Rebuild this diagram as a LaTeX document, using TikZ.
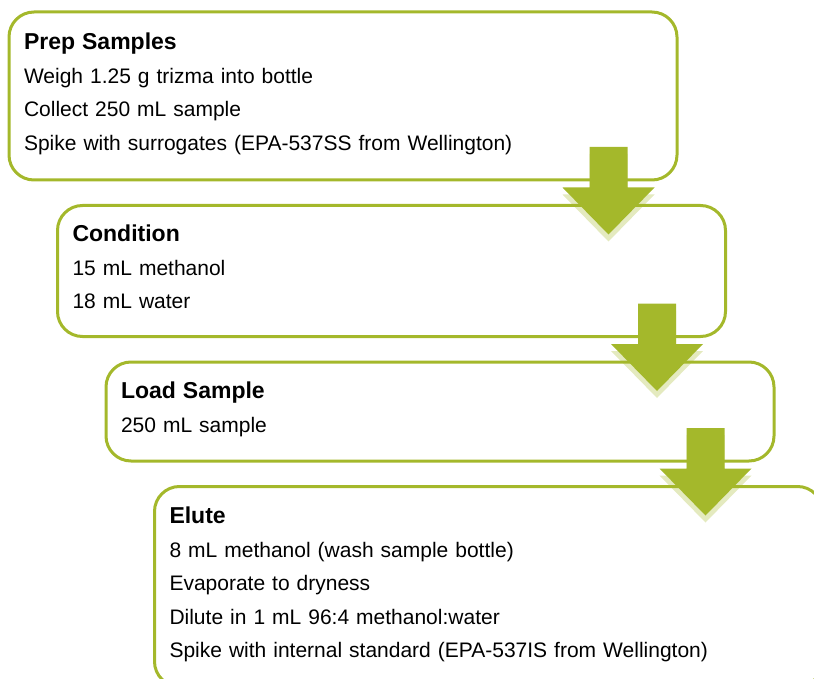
\documentclass[tikz,border=0pt]{standalone}
\usepackage{fontspec}
\setmainfont{Liberation Sans}
\usetikzlibrary{positioning,calc}

\definecolor{flowgreen}{HTML}{A4B82B}

\tikzset{
	stepbox/.style={draw=flowgreen, line width=3pt, rounded corners=25pt,
		anchor=north west, align=left, text width=638pt, inner xsep=15pt,
		inner ysep=0pt, outer sep=0pt, minimum width=668pt,
		font=\fontsize{21}{33.5}\selectfont,
		execute at end node={\rule[-9pt]{0pt}{9pt}}},
	arrowbody/.style={fill=flowgreen},
	arrowshadow/.style={fill=flowgreen, fill opacity=0.3, transform canvas={yshift=-7pt}}
}

\newcommand{\steptitle}[1]{{\fontsize{23}{33.5}\selectfont\bfseries #1}\\[0.5pt]}

% block arrow from the lower right of one box into the next
\newcommand{\flowarrow}[3][arrowbody]{%
	\fill[#1] let \p1=(#2.south east), \p2=(#3.north) in
		(\x1-87.5pt,\y1+33pt) -- (\x1-49.5pt,\y1+33pt) -- (\x1-49.5pt,\y2+18pt)
		-- (\x1-22.5pt,\y2+18pt) -- (\x1-68.5pt,\y2-29pt) -- (\x1-114.5pt,\y2+18pt)
		-- (\x1-87.5pt,\y2+18pt) -- cycle;}

\begin{document}
\begin{tikzpicture}[x=1pt,y=-1pt]
	\path[use as bounding box] (0,0) rectangle (814,679);
	\clip (0,0) rectangle (814,679);

	\node [stepbox, minimum height=168pt] (prep) at (9,12)
		{\steptitle{Prep Samples}
		Weigh 1.25 g trizma into bottle\\
		Collect 250 mL sample\\
		Spike with surrogates (EPA-537SS from Wellington)};
	\node [stepbox, minimum height=131pt, below right=25.5pt and 48.5pt of prep.south west] (cond)
		{\steptitle{Condition}
		15 mL methanol\\
		18 mL water};
	\node [stepbox, minimum height=99pt, below right=25.5pt and 48.5pt of cond.south west] (load)
		{\steptitle{Load Sample}
		250 mL sample};
	\node [stepbox, minimum height=200pt, below right=25.5pt and 48.5pt of load.south west] (elute)
		{\steptitle{Elute}
		8 mL methanol (wash sample bottle)\\
		Evaporate to dryness\\
		Dilute in 1 mL 96:4 methanol:water\\
		Spike with internal standard (EPA-537IS from Wellington)};

	\flowarrow[arrowshadow]{prep}{cond}
	\flowarrow{prep}{cond}
	\flowarrow[arrowshadow]{cond}{load}
	\flowarrow{cond}{load}
	\flowarrow[arrowshadow]{load}{elute}
	\flowarrow{load}{elute}
\end{tikzpicture}
\end{document}
